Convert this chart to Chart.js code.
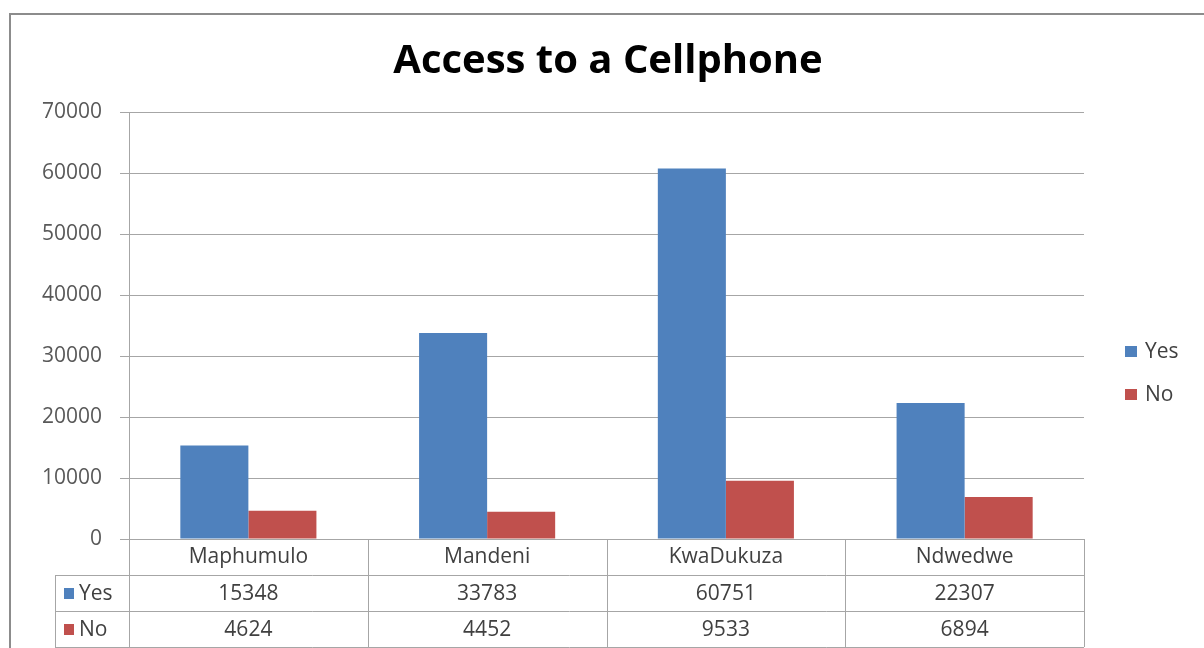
<!DOCTYPE html>
<html>
<head>
<meta charset="utf-8">
<script src="https://cdn.jsdelivr.net/npm/chart.js@4"></script>
<style>
  body { margin: 0; background: #fff; }
  #wrap { position: absolute; left: 0; top: 0; width: 1204px; height: 648px; }
</style>
</head>
<body>
<div id="wrap"><canvas id="myChart" width="1204" height="648"></canvas></div>
<script>
// カテゴリ（自治体）
const categories = ['Maphumulo', 'Mandeni', 'KwaDukuza', 'Ndwedwe'];

// 系列データ
const yesValues = [15348, 33783, 60751, 22307];
const noValues = [4624, 4452, 9533, 6894];

const seriesNames = ['Yes', 'No'];
const seriesColors = ['#4F81BD', '#C0504D'];

const FONT = '"Open Sans", "Liberation Sans", sans-serif';
const LINE = '#a6a6a6';
const TEXT = '#404040';
const FS = 21;

// 外枠
const framePlugin = {
  id: 'frame',
  beforeDraw(chart) {
    const ctx = chart.ctx;
    ctx.save();
    ctx.fillStyle = '#fff';
    ctx.fillRect(0, 0, chart.width, chart.height);
    ctx.strokeStyle = '#8c8c8c';
    ctx.lineWidth = 2;
    ctx.strokeRect(10, 14, chart.width + 20, chart.height + 20);
    ctx.restore();
  }
};

// 凡例（右側）
const legendPlugin = {
  id: 'sideLegend',
  afterDraw(chart) {
    const ctx = chart.ctx;
    const x = chart.chartArea.right + 41;
    ctx.save();
    ctx.font = FS + 'px ' + FONT;
    ctx.textBaseline = 'middle';
    chart.data.datasets.forEach((ds, i) => {
      const y = 351 + i * 43;
      ctx.fillStyle = ds.backgroundColor;
      ctx.fillRect(x, y - 5, 12, 11);
      ctx.fillStyle = TEXT;
      ctx.textAlign = 'left';
      ctx.fillText(ds.label, x + 20, y + 1);
    });
    ctx.restore();
  }
};

// データテーブル（x軸の下）
const tablePlugin = {
  id: 'dataTable',
  afterDraw(chart) {
    const ctx = chart.ctx;
    const xs = chart.scales.x;
    const area = chart.chartArea;
    const n = categories.length;
    const w = (area.right - area.left) / n;
    const top = area.bottom;
    const rowH = 36;
    const rows = [top, top + rowH, top + rowH * 2, top + rowH * 3];
    const leftCol = 55;

    ctx.save();
    ctx.strokeStyle = LINE;
    ctx.lineWidth = 1;
    ctx.beginPath();
    // 横線
    ctx.moveTo(area.left, rows[0] + 0.5); ctx.lineTo(area.right, rows[0] + 0.5);
    for (let r = 1; r < 4; r++) {
      ctx.moveTo(leftCol, Math.round(rows[r]) + 0.5);
      ctx.lineTo(area.right, Math.round(rows[r]) + 0.5);
    }
    // 縦線
    for (let k = 0; k <= n; k++) {
      const bx = Math.round(area.left + k * w) + 0.5;
      ctx.moveTo(bx, rows[0]); ctx.lineTo(bx, rows[3]);
    }
    ctx.moveTo(leftCol + 0.5, rows[1]); ctx.lineTo(leftCol + 0.5, rows[3]);
    ctx.stroke();

    ctx.font = FS + 'px ' + FONT;
    ctx.fillStyle = TEXT;
    ctx.textAlign = 'center';
    ctx.textBaseline = 'middle';
    categories.forEach((c, i) => {
      ctx.fillText(c, xs.getPixelForValue(i), rows[0] + rowH / 2);
    });
    chart.data.datasets.forEach((ds, d) => {
      const cy = rows[d + 1] + rowH / 2;
      ctx.fillStyle = ds.backgroundColor;
      ctx.fillRect(leftCol + 9, cy - 5, 10, 11);
      ctx.fillStyle = TEXT;
      ctx.textAlign = 'left';
      ctx.fillText(ds.label, leftCol + 24, cy + 1);
      ctx.textAlign = 'center';
      ds.data.forEach((v, i) => {
        ctx.fillText(String(v), xs.getPixelForValue(i), cy + 1);
      });
    });
    ctx.restore();
  }
};

const data = {
  labels: categories,
  datasets: [
    { label: seriesNames[0], data: yesValues, backgroundColor: seriesColors[0] },
    { label: seriesNames[1], data: noValues, backgroundColor: seriesColors[1] }
  ]
};

const config = {
  type: 'bar',
  data: data,
  options: {
    responsive: false,
    animation: false,
    layout: { padding: { left: 12, right: 0, top: 0, bottom: 0 } },
    datasets: { bar: { categoryPercentage: 0.57, barPercentage: 1.0 } },
    plugins: {
      legend: { display: false },
      tooltip: { enabled: false },
      title: {
        display: true,
        text: 'Access to a Cellphone',
        color: '#000',
        font: { family: FONT, size: 40, weight: 'bold', lineHeight: 1.2 },
        padding: { top: 38, bottom: 26 }
      }
    },
    scales: {
      x: {
        ticks: { display: false },
        grid: { display: false },
        border: { display: false },
        afterFit(scale) { scale.height = 109; }
      },
      y: {
        min: 0,
        max: 70000,
        ticks: {
          stepSize: 10000,
          color: '#595959',
          padding: 18,
          font: { family: FONT, size: FS },
          callback: (v) => String(v)
        },
        grid: { color: LINE, tickLength: 9 },
        border: { color: LINE },
        afterFit(scale) { scale.width = 117; }
      },
      // 凡例用の右余白
      yRight: {
        position: 'right',
        ticks: { display: false },
        grid: { display: false },
        border: { display: false },
        afterFit(scale) { scale.width = 120; }
      }
    }
  },
  plugins: [framePlugin, tablePlugin, legendPlugin]
};

const myChart = new Chart(document.getElementById('myChart'), config);
</script>
</body>
</html>
